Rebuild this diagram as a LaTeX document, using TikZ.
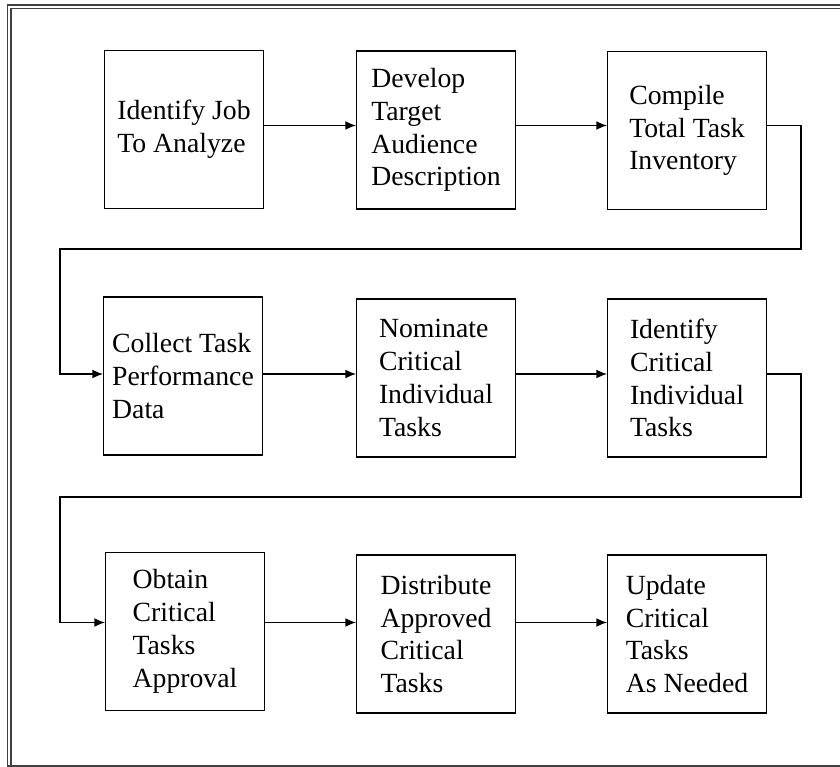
\documentclass[tikz,border=0pt]{standalone}
\usepackage{fontspec}
\setmainfont{Liberation Serif}
\usetikzlibrary{arrows.meta}
\tikzset{
	taskbox/.style={draw, line width=0.9pt, minimum width=119pt, minimum height=118.5pt,
		inner sep=0pt, align=left, font=\fontsize{20.8}{24.6}\selectfont},
	flow/.style={line width=0.9pt, -{Latex[length=8pt,width=6.5pt]}}
}
\begin{document}
\begin{tikzpicture}[x=0.75pt,y=-0.75pt]
		\useasboundingbox (0,0) rectangle (840,767);

		% frame
		\draw[line width=1.1pt, black!75] (7.5,767) -- (7.5,5) -- (840,5);
		\draw[line width=1.1pt, black!75] (11,767) -- (11,8.7) -- (840,8.7);
		\draw[line width=1.1pt, black!75] (7.5,765.8) -- (840,765.8);

		% first row
		\node[taskbox] (job) at (184,129.5) {Identify Job\\To Analyze};
		\node[taskbox] (audience) at (436,130) {Develop\\Target\\Audience\\Description};
		\node[taskbox] (inventory) at (687,130.5) {Compile\\Total Task\\Inventory};

		% second row
		\node[taskbox] (collect) at (183,376) {Collect Task\\Performance\\Data};
		\node[taskbox] (nominate) at (436,378) {Nominate\\Critical\\Individual\\Tasks};
		\node[taskbox] (identify) at (687,378) {Identify\\Critical\\Individual\\Tasks};

		% third row
		\node[taskbox] (obtain) at (185,631.5) {Obtain\\Critical\\Tasks\\Approval};
		\node[taskbox] (distribute) at (436,634) {Distribute\\Approved\\Critical\\Tasks};
		\node[taskbox] (update) at (687,634) {Update\\Critical\\Tasks\\As Needed};

		\coordinate (r1) at (0,125.5);
		\coordinate (r2) at (0,374);
		\coordinate (r3) at (0,622.5);

		\draw[flow] (job.east |- r1) -- (audience.west |- r1);
		\draw[flow] (audience.east |- r1) -- (inventory.west |- r1);
		\draw[flow] (inventory.east |- r1) -- (801,125.5) -- (801,249) -- (60,249) -- (60,374) -- (collect.west |- r2);

		\draw[flow] (collect.east |- r2) -- (nominate.west |- r2);
		\draw[flow] (nominate.east |- r2) -- (identify.west |- r2);
		\draw[flow] (identify.east |- r2) -- (801,374) -- (801,497) -- (60,497) -- (60,622.5) -- (obtain.west |- r3);

		\draw[flow] (obtain.east |- r3) -- (distribute.west |- r3);
		\draw[flow] (distribute.east |- r3) -- (update.west |- r3);
	\end{tikzpicture}
\end{document}
